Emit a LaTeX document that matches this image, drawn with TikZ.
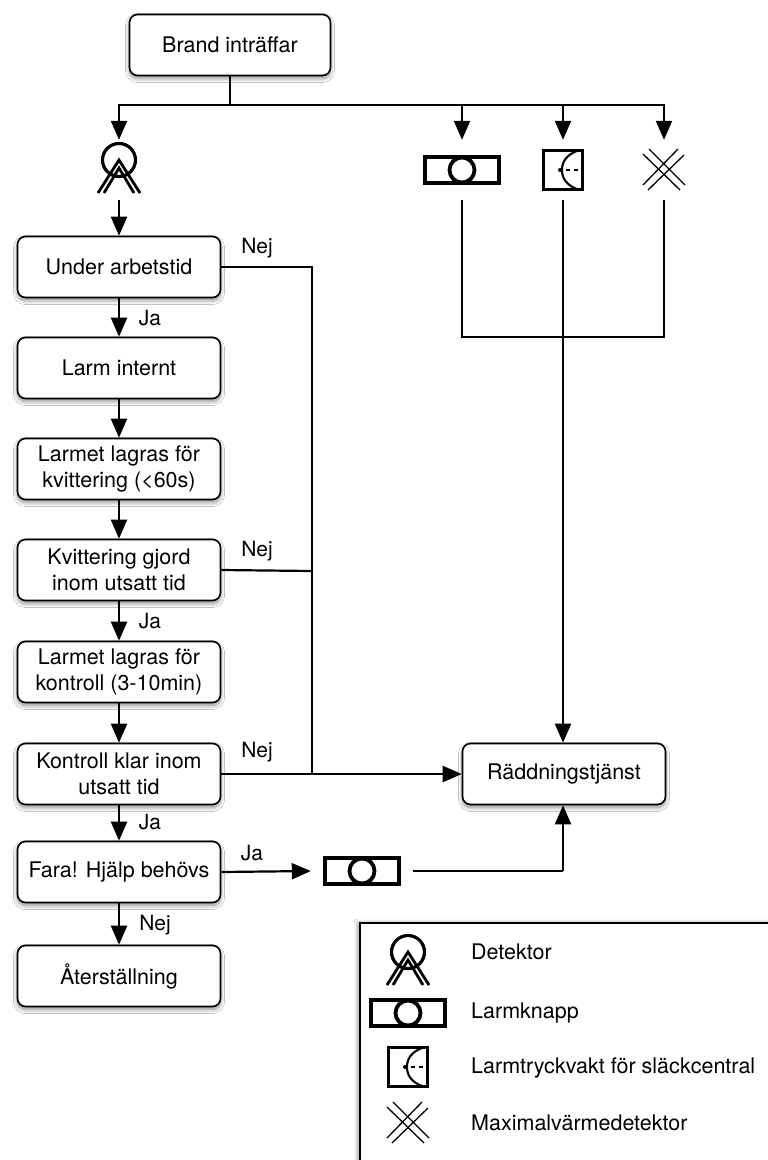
\documentclass[tikz,border=0pt]{standalone}
\usepackage{fontspec}
\setmainfont{TeX Gyre Heros}
\usetikzlibrary{arrows.meta,shadows.blur}
\tikzset{
  flowbox/.style={draw, line width=1.6pt, rounded corners=8pt, fill=white, minimum width=203pt, minimum height=61pt, align=center, inner sep=0pt, font=\fontsize{21.5}{26}\selectfont, blur shadow={shadow xshift=0pt, shadow yshift=-3pt, shadow blur radius=4pt, shadow blur steps=8, shadow opacity=45}},
  symnode/.style={minimum width=60pt, minimum height=60pt, inner sep=0pt},
  tag/.style={inner sep=0pt, font=\fontsize{21}{25}\selectfont},
  legendtext/.style={anchor=west, inner sep=0pt, font=\fontsize{21.5}{26}\selectfont},
  line/.style={line width=2.2pt},
  pil/.style={line width=2.2pt, -{Triangle[length=19pt, width=16pt]}},
  detektor/.pic={
    \draw[line width=3.2pt] (0,-10) circle (16.5);
    \draw[line width=2.8pt] (-21,23) -- (0,-10) -- (21,23);
    \draw[line width=2.8pt] (-15,23) -- (0,-2) -- (15,23);
  },
  larmknapp/.pic={
    \draw[line width=3.8pt] (-37,-13) rectangle (37,13);
    \draw[line width=3.8pt, fill=white] (0,0) circle (12.5);
  },
  tryckvakt/.pic={
    \draw[line width=2.1pt] (-19.5,-19.5) rectangle (19.5,19.5);
    \draw[line width=2.1pt] (15,-19.5) .. controls (3,-15) and (-1,-8) .. (-1,0) .. controls (-1,8) and (3,15) .. (15,19.5);
    \fill (-3,0) circle (2);
    \draw[line width=1.8pt] (3,0) -- (7,0) (11,0) -- (15,0);
  },
  maxdetektor/.pic={
    \draw[line width=1.3pt] (-15,-21) -- (21,15);
    \draw[line width=1.3pt] (-21,-16) -- (16,20);
    \draw[line width=1.3pt] (14,-21) -- (-21,15);
    \draw[line width=1.3pt] (20,-15) -- (-16,20);
  }
}
\begin{document}
\begin{tikzpicture}[x=1pt, y=-1pt]
  \clip (0,0) rectangle (768,1160);
  \fill[white] (0,0) rectangle (768,1160);
  % boxes
  \node[flowbox, minimum width=201pt] (brand) at (230,45) {Brand inträffar};
  \node[flowbox] (arbetstid) at (119,267) {Under arbetstid};
  \node[flowbox] (internt) at (119,368) {Larm internt};
  \node[flowbox] (kvittering) at (119,469) {Larmet lagras för\\kvittering (<60s)};
  \node[flowbox] (gjord) at (119,570) {Kvittering gjord\\inom utsatt tid};
  \node[flowbox] (kontroll) at (119,672) {Larmet lagras för\\kontroll (3-10min)};
  \node[flowbox] (klar) at (119,774) {Kontroll klar inom\\utsatt tid};
  \node[flowbox] (fara) at (119,872) {Fara! Hjälp behövs};
  \node[flowbox] (reset) at (119,976) {Återställning};
  \node[flowbox] (rtj) at (564,774) {Räddningstjänst};
  % symbols
  \node[symnode] (det) at (119,170) {};
  \node[symnode] (knapp) at (462,170) {};
  \node[symnode] (tryck) at (563,170) {};
  \node[symnode] (maxdet) at (664,170) {};
  \node[symnode, minimum width=102pt] (knapptva) at (362,871) {};
  \pic at (det) {detektor};
  \pic at (knapp) {larmknapp};
  \pic at (tryck) {tryckvakt};
  \pic at (maxdet) {maxdetektor};
  \pic at (knapptva) {larmknapp};
  % connectors
  \coordinate (split) at (230,105);
  \coordinate (samla) at (462,337);
  \coordinate (samlb) at (664,337);
  \coordinate (nejtop) at (312,267);
  \coordinate (nejmid) at (312,571);
  \coordinate (nejbot) at (312,774);
  \coordinate (knick) at (563,871);
  \draw[line] (brand.south) -- (split);
  \draw[pil] (split) -| (det.north);
  \draw[pil] (split) -| (knapp.north);
  \draw[pil] (split) -| (tryck.north);
  \draw[pil] (split) -| (maxdet.north);
  \draw[pil] (det.south) -- (arbetstid.north);
  \draw[pil] (arbetstid.south) -- (internt.north);
  \draw[pil] (internt.south) -- (kvittering.north);
  \draw[pil] (kvittering.south) -- (gjord.north);
  \draw[pil] (gjord.south) -- (kontroll.north);
  \draw[pil] (kontroll.south) -- (klar.north);
  \draw[pil] (klar.south) -- (fara.north);
  \draw[pil] (fara.south) -- (reset.north);
  \draw[line] (knapp.south) -- (samla) -- (samlb) -- (maxdet.south);
  \draw[pil] (tryck.south) -- (tryck.south |- rtj.north);
  \draw[line] (arbetstid.east) -- (nejtop) -- (nejbot);
  \draw[line] (gjord.east) -- (nejmid);
  \draw[pil] (klar.east) -- (rtj.west);
  \draw[pil] (fara.east) -- (knapptva.west);
  \draw[line] (knapptva.east) -- (knick);
  \draw[pil] (knick) -- (knick |- rtj.south);
  % labels
  \node[tag] (nejett) at (257,248) {Nej};
  \node[tag] (nejtva) at (257,551) {Nej};
  \node[tag] (nejtre) at (257,752) {Nej};
  \node[tag] (nejfyra) at (155,925) {Nej};
  \node[tag] (jaett) at (150,318) {Ja};
  \node[tag] (jatva) at (150,621) {Ja};
  \node[tag] (jatre) at (150,822) {Ja};
  \node[tag] (jafyra) at (252,853) {Ja};
  % legend
  \draw[line width=1.4pt, fill=white, blur shadow={shadow xshift=-2pt, shadow yshift=0pt, shadow blur radius=4pt, shadow blur steps=8, shadow opacity=45}] (360,923) rectangle (800,1200);
  \node[symnode] (detleg) at (408,962) {};
  \node[symnode] (knappleg) at (408,1013) {};
  \node[symnode] (tryckleg) at (408,1067) {};
  \node[symnode] (maxleg) at (408,1123) {};
  \pic at (detleg) {detektor};
  \pic at (knappleg) {larmknapp};
  \pic at (tryckleg) {tryckvakt};
  \pic at (maxleg) {maxdetektor};
  \node[legendtext] (detlabel) at (471,952) {Detektor};
  \node[legendtext] (knapplabel) at (471,1013) {Larmknapp};
  \node[legendtext] (trycklabel) at (471,1068) {Larmtryckvakt för släckcentral};
  \node[legendtext] (maxlabel) at (471,1123) {Maximalvärmedetektor};
\end{tikzpicture}
\end{document}
